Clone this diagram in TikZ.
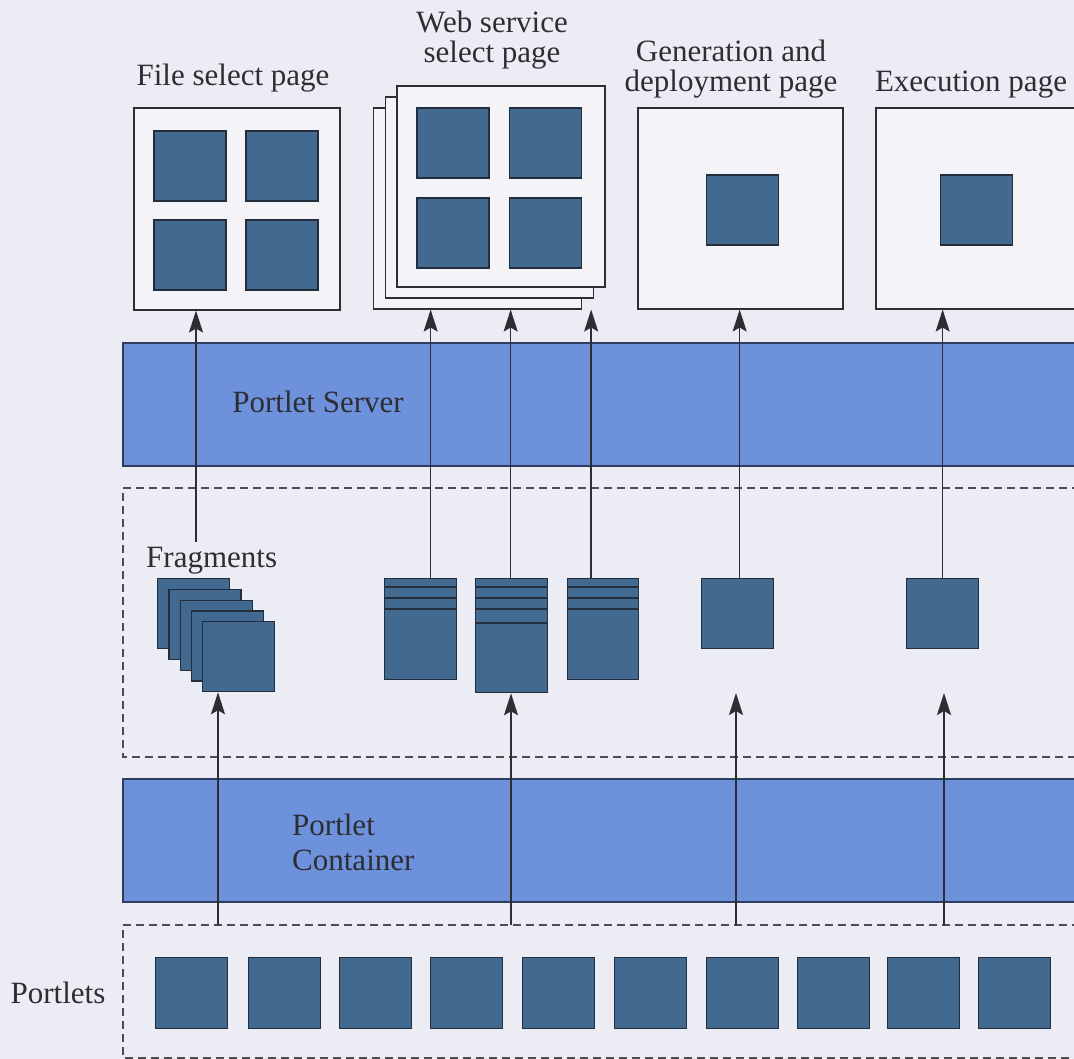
\documentclass[tikz,border=0pt]{standalone}
\usepackage{fontspec}
\setmainfont{Liberation Serif}
\usetikzlibrary{arrows.meta}
\definecolor{bg}{RGB}{236,236,244}
\definecolor{pagefill}{RGB}{243,243,248}
\definecolor{sqfill}{RGB}{66,106,145}
\definecolor{sqline}{RGB}{35,45,60}
\definecolor{bandfill}{RGB}{110,145,220}
\definecolor{bandline}{RGB}{45,60,95}
\definecolor{ink}{RGB}{45,45,52}
\begin{document}
\begin{tikzpicture}[x=1pt,y=-1pt,
  page/.style={draw=ink,fill=pagefill,line width=1.1pt,inner sep=0pt,minimum width=206pt,minimum height=201pt},
  sq/.style={draw=sqline,fill=sqfill,line width=1.3pt,inner sep=0pt,minimum width=72pt,minimum height=70pt},
  tallsq/.style={sq,minimum height=101pt},
  band/.style={draw=bandline,fill=bandfill,line width=1.5pt},
  stripe/.style={draw=sqline,line width=1.5pt},
  lbl/.style={font=\fontsize{31}{30}\selectfont,text=ink,align=center,inner sep=0pt},
  conn/.style={draw=ink,line width=1.6pt,-{Stealth[length=22pt,width=14pt,inset=4pt]}},
  layerline/.style={draw=ink!85,line width=1.4pt,dash pattern=on 8pt off 5pt}]
\useasboundingbox (0,0) rectangle (1074,1059);
\clip (0,0) rectangle (1074,1059);
\fill[bg] (0,0) rectangle (1074,1059);

% ---- bands ----
\filldraw[band] (123,343) rectangle (1090,466);
\node[lbl,anchor=base] (lserver) at (318,412) {Portlet Server};
\filldraw[band] (123,779) rectangle (1090,902);
\node[lbl,anchor=base west,align=left,font=\fontsize{31}{35}\selectfont] (lcont) at (292,870) {Portlet\\Container};

% ---- dashed layers ----
\draw[layerline] (1080,488) -- (123,488) -- (123,757) -- (1080,757);
\draw[layerline] (1080,925) -- (123,925) -- (123,1058) -- (1080,1058);

% ---- pages ----
\node[page,minimum height=202pt] (file) at (237,209) {};
\foreach \cx/\cy [count=\i] in {190/166,282/166,190/255,282/255}
  \node[sq] (fsq\i) at (\cx,\cy) {};

\node[page,minimum width=208pt] (wsback) at (477.5,208.5) {};
\node[page,minimum width=208pt] (wsmid) at (489.5,197.5) {};
\node[page,minimum width=208pt] (ws) at (501,186.5) {};
\foreach \cx/\cy [count=\i] in {453/143,545.5/143,453/233,545.5/233}
  \node[sq] (wsq\i) at (\cx,\cy) {};

\node[page,minimum width=205pt] (gen) at (740.5,208.5) {};
\node[sq] (gsq) at (742.5,210) {};
\node[page,minimum width=205pt] (exec) at (978.5,208.5) {};
\node[sq] (esq) at (976.5,210) {};

% ---- labels ----
\node[lbl,anchor=base] (lfile) at (233,86) {File select page};
\node[lbl,anchor=base] (lweb) at (492,63) {Web service\\select page};
\node[lbl,anchor=base] (lgen) at (731,92) {Generation and\\deployment page};
\node[lbl,anchor=base] (lexec) at (971,92) {Execution page};
\node[lbl,anchor=base west] (lfrag) at (146,567) {Fragments};
\node[lbl,anchor=base] (lportlets) at (58,1003) {Portlets};

% ---- fragments ----
\foreach \k in {0,...,4}
  \node[sq,anchor=north west] (fs\k) at ({157+11.25*\k},{578+10.75*\k}) {};

\node[tallsq,anchor=north west] (wf1) at (384,578) {};
\node[tallsq,anchor=north west,minimum height=114pt] (wf2) at (475,578) {};
\node[tallsq,anchor=north west,minimum width=71pt] (wf3) at (567,578) {};
\foreach \n in {wf1,wf2,wf3}
  \foreach \d in {9,20,31}
    \draw[stripe] ([yshift=-\d pt]\n.north west) -- ([yshift=-\d pt]\n.north east);
\draw[stripe] ([yshift=-45pt]wf2.north west) -- ([yshift=-45pt]wf2.north east);

\node[sq,anchor=north west] (gf) at (701,578) {};
\node[sq,anchor=north west] (ef) at (906,578) {};

% ---- portlets ----
\foreach \x [count=\i] in {155,248,339,430,522,614,706,797,887,978}
  \node[sq,anchor=north west,minimum height=71pt] (p\i) at (\x,957) {};

% ---- connectors up to pages ----
\coordinate (ffrom) at (196,542);
\draw[conn] (ffrom) -- (ffrom |- file.south);
\draw[conn] ([xshift=10pt]wf1.north) -- ([xshift=10pt]wf1.north |- wsback.south);
\draw[conn] ([xshift=-1pt]wf2.north) -- ([xshift=-1pt]wf2.north |- wsback.south);
\draw[conn] ([xshift=-12pt]wf3.north) -- ([xshift=-12pt]wf3.north |- wsback.south);
\draw[conn] ([xshift=2pt]gf.north) -- ([xshift=2pt]gf.north |- gen.south);
\draw[conn] (ef.north) -- (ef.north |- exec.south);

% ---- connectors from portlet container ----
\coordinate (b1) at (218,925);
\coordinate (b2) at (511,925);
\coordinate (b3) at (736,925);
\coordinate (b4) at (944,925);
\coordinate (t3) at (736,693);
\coordinate (t4) at (944,693);
\draw[conn] (b1) -- (b1 |- fs4.south);
\draw[conn] (b2) -- (b2 |- wf2.south);
\draw[conn] (b3) -- (t3);
\draw[conn] (b4) -- (t4);
\end{tikzpicture}
\end{document}
